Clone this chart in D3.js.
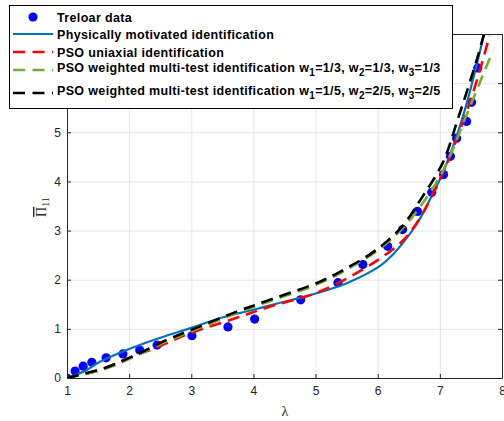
<!DOCTYPE html>
<html>
<head>
<meta charset="utf-8">
<script src="https://cdn.jsdelivr.net/npm/d3@7"></script>
<style>
  body { margin: 0; background: #fff; }
  svg { display: block; font-family: "Liberation Sans", Arial, sans-serif; }
</style>
</head>
<body>
<svg id="chart" width="504" height="421"></svg>
<script>
// Treloar uniaxial data
const treloarLambda = [1.0, 1.13, 1.26, 1.40, 1.63, 1.90, 2.17, 2.45, 3.01, 3.59, 4.02, 4.76, 5.36, 5.76, 6.16, 6.40, 6.64, 6.87, 7.06, 7.17, 7.27, 7.43, 7.51, 7.61];
const treloarStress = [0.0, 0.14, 0.24, 0.32, 0.41, 0.49, 0.57, 0.67, 0.86, 1.04, 1.20, 1.59, 1.94, 2.31, 2.68, 3.02, 3.39, 3.78, 4.14, 4.51, 4.88, 5.22, 5.61, 6.31];

// Physically motivated identification
const physLambda = [1.0, 1.27, 1.53, 2.0, 2.5, 3.0, 3.5, 4.0, 4.4, 5.0, 5.5, 6.0, 6.25, 6.45, 6.65, 6.84, 7.05, 7.27, 7.45, 7.72];
const physStress = [0.0, 0.13, 0.33, 0.59, 0.82, 1.02, 1.23, 1.39, 1.52, 1.72, 1.93, 2.25, 2.52, 2.82, 3.18, 3.63, 4.18, 4.92, 5.67, 7.04];

// PSO uniaxial identification
const psoUniLambda = [1.0, 1.5, 2.0, 2.5, 2.78, 3.0, 3.67, 4.26, 5.07, 6.0, 6.48, 6.95, 7.48, 7.80];
const psoUniStress = [0.0, 0.15, 0.41, 0.65, 0.81, 0.92, 1.20, 1.45, 1.76, 2.40, 2.90, 3.90, 5.60, 6.96];

// PSO weighted multi-test w = 1/3, 1/3, 1/3
const psoW1Lambda = [1.0, 1.64, 2.0, 2.24, 2.61, 3.0, 3.67, 4.26, 5.07, 5.55, 5.98, 6.39, 6.72, 7.0, 7.16, 7.43, 7.85];
const psoW1Stress = [0.0, 0.20, 0.39, 0.53, 0.75, 0.95, 1.29, 1.56, 1.93, 2.24, 2.58, 3.03, 3.55, 4.10, 4.51, 5.35, 6.65];

// PSO weighted multi-test w = 1/5, 2/5, 2/5
const psoW2Lambda = [1.0, 1.64, 2.0, 2.24, 2.61, 3.0, 3.67, 4.26, 5.07, 5.55, 5.98, 6.39, 6.72, 7.05, 7.29, 7.6, 7.72];
const psoW2Stress = [0.0, 0.22, 0.41, 0.55, 0.78, 0.98, 1.32, 1.59, 1.96, 2.27, 2.61, 3.08, 3.69, 4.39, 5.27, 6.5, 7.05];

const xTicks = [1, 2, 3, 4, 5, 6, 7, 8];
const yTicks = [0, 1, 2, 3, 4, 5, 6, 7];

const svg = d3.select('#chart');
const plotLeft = 67, plotRight = 502, plotTop = 34, plotBottom = 378;
const axisColor = '#262626';

const x = d3.scaleLinear().domain([1, 8]).range([plotLeft, plotRight]);
const y = d3.scaleLinear().domain([0, 7]).range([plotBottom, plotTop]);

// Grid
svg.append('g')
  .attr('transform', `translate(0,${plotBottom})`)
  .call(d3.axisBottom(x).tickValues(xTicks).tickSize(-(plotBottom - plotTop)).tickFormat(''))
  .call(g => g.select('.domain').remove())
  .call(g => g.selectAll('line').attr('stroke', '#e6e6e6'));
svg.append('g')
  .attr('transform', `translate(${plotLeft},0)`)
  .call(d3.axisLeft(y).tickValues(yTicks).tickSize(-(plotRight - plotLeft)).tickFormat(''))
  .call(g => g.select('.domain').remove())
  .call(g => g.selectAll('line').attr('stroke', '#e6e6e6'));

svg.append('clipPath').attr('id', 'clip')
  .append('rect')
    .attr('x', plotLeft).attr('y', plotTop)
    .attr('width', plotRight - plotLeft).attr('height', plotBottom - plotTop);

const plot = svg.append('g').attr('clip-path', 'url(#clip)');

// Treloar points
plot.selectAll('circle')
  .data(treloarLambda.map((l, i) => [l, treloarStress[i]]))
  .join('circle')
    .attr('cx', d => x(d[0]))
    .attr('cy', d => y(d[1]))
    .attr('r', 4.6)
    .attr('fill', '#0000ff');

const line = d3.line()
  .x(d => x(d[0]))
  .y(d => y(d[1]))
  .curve(d3.curveCatmullRom.alpha(0.5));

const curves = [
  { lam: physLambda, val: physStress, color: '#0072bd', dash: null, width: 2.2 },
  { lam: psoUniLambda, val: psoUniStress, color: '#ff0000', dash: '12,7', width: 2.6 },
  { lam: psoW1Lambda, val: psoW1Stress, color: '#77ac30', dash: '12,7', width: 2.6 },
  { lam: psoW2Lambda, val: psoW2Stress, color: '#000000', dash: '12,7', width: 2.6 },
];

curves.forEach(c => {
  plot.append('path')
    .datum(c.lam.map((l, i) => [l, c.val[i]]))
    .attr('fill', 'none')
    .attr('stroke', c.color)
    .attr('stroke-width', c.width)
    .attr('stroke-dasharray', c.dash)
    .attr('d', line);
});

// Axes (box on, ticks inward)
const styleAxis = g => {
  g.select('.domain').attr('stroke', axisColor);
  g.selectAll('.tick line').attr('stroke', axisColor);
  g.selectAll('text').attr('fill', axisColor).attr('font-size', 12);
};
svg.append('g')
  .attr('transform', `translate(0,${plotBottom})`)
  .call(d3.axisBottom(x).tickValues(xTicks).tickFormat(d3.format('d'))
    .tickSizeInner(-4).tickSizeOuter(0).tickPadding(8))
  .call(styleAxis);
svg.append('g')
  .attr('transform', `translate(0,${plotTop})`)
  .call(d3.axisTop(x).tickValues(xTicks).tickSizeInner(-4).tickSizeOuter(0).tickFormat(''))
  .call(styleAxis);
svg.append('g')
  .attr('transform', `translate(${plotLeft},0)`)
  .call(d3.axisLeft(y).tickValues(yTicks).tickFormat(d3.format('d'))
    .tickSizeInner(-4).tickSizeOuter(0).tickPadding(6))
  .call(styleAxis);
svg.append('g')
  .attr('transform', `translate(${plotRight},0)`)
  .call(d3.axisRight(y).tickValues(yTicks).tickSizeInner(-4).tickSizeOuter(0).tickFormat(''))
  .call(styleAxis);

// Axis labels
svg.append('text')
  .attr('x', 285)
  .attr('y', 416)
  .attr('text-anchor', 'middle')
  .attr('font-family', '"Liberation Serif", serif')
  .attr('font-size', 14)
  .attr('fill', axisColor)
  .text('λ');

const ylab = svg.append('text')
  .attr('transform', `translate(46,207) rotate(-90)`)
  .attr('text-anchor', 'middle')
  .attr('font-family', '"Liberation Serif", serif')
  .attr('font-size', 14)
  .attr('fill', axisColor);
ylab.append('tspan').attr('text-decoration', 'overline').text('Π');
ylab.append('tspan').attr('font-size', 10).attr('dy', 3).text('11');

// Legend
const legendLabels = [
  ['Treloar data'],
  ['Physically motivated identification'],
  ['PSO uniaxial identification'],
  ['PSO weighted multi-test identification w', '1', '=1/3, w', '2', '=1/3, w', '3', '=1/3'],
  ['PSO weighted multi-test identification w', '1', '=1/5, w', '2', '=2/5, w', '3', '=2/5'],
];
const legendRowY = [17, 34, 52, 70, 93];

const legend = svg.append('g');
legend.append('rect')
  .attr('x', 9.5).attr('y', 5.5)
  .attr('width', 443).attr('height', 103)
  .attr('fill', '#fff')
  .attr('stroke', '#000')
  .attr('stroke-width', 1);

legendLabels.forEach((parts, i) => {
  const ry = legendRowY[i];
  if (i === 0) {
    legend.append('circle').attr('cx', 33).attr('cy', ry).attr('r', 4.6).attr('fill', '#0000ff');
  } else {
    const c = curves[i - 1];
    legend.append('line')
      .attr('x1', 13).attr('x2', 53)
      .attr('y1', ry).attr('y2', ry)
      .attr('stroke', c.color)
      .attr('stroke-width', c.width)
      .attr('stroke-dasharray', c.dash ? '12,7.5' : null);
  }
  const t = legend.append('text')
    .attr('x', 57)
    .attr('y', i >= 3 ? ry + 2 : ry + 4.5)
    .attr('font-size', 12.5)
    .attr('font-weight', 'bold')
    .attr('letter-spacing', 0.35)
    .attr('fill', '#000');
  parts.forEach((p, k) => {
    if (k % 2 === 1) {
      t.append('tspan').attr('font-size', 10).attr('dy', 4).text(p);
    } else {
      t.append('tspan').attr('dy', k === 0 ? 0 : -4).text(p);
    }
  });
});
</script>
</body>
</html>
